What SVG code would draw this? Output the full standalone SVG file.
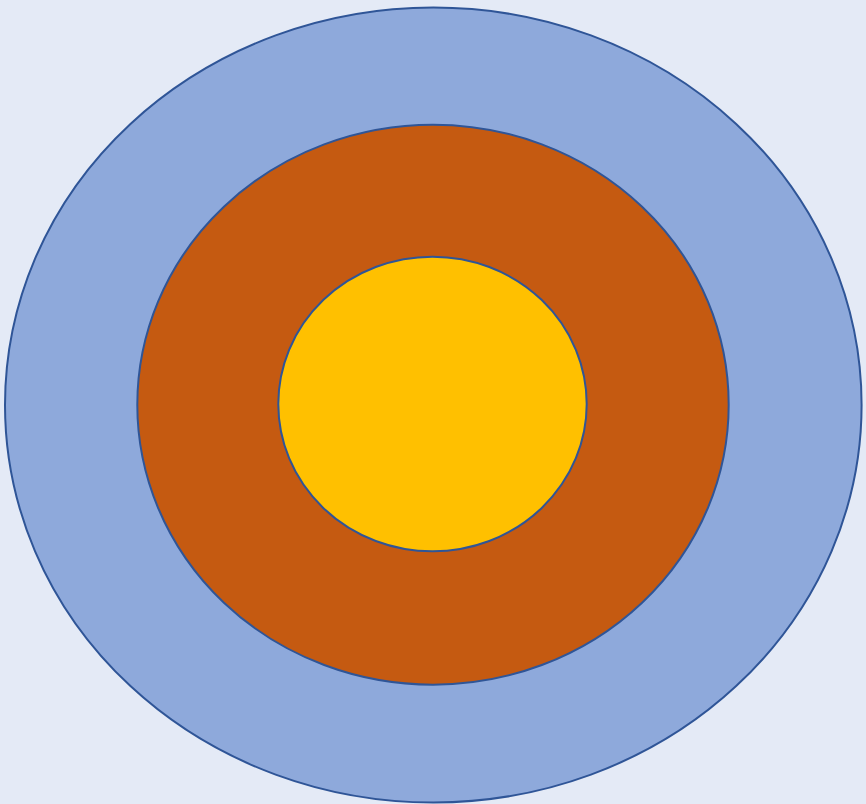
<svg xmlns="http://www.w3.org/2000/svg" width="866" height="804" viewBox="0 0 866 804">
<style>
.ring{stroke:#2F5597;stroke-width:2}
</style>
<rect x="0" y="0" width="866" height="804" fill="#E4EAF6"/>
<g id="outer"><ellipse class="ring" cx="433.3" cy="405" rx="428.3" ry="397.5" fill="#8EA9DB"/></g>
<g id="middle"><ellipse class="ring" cx="433" cy="404.7" rx="295.7" ry="280" fill="#C55A11"/></g>
<g id="inner"><ellipse class="ring" cx="432.5" cy="404" rx="154.2" ry="147.3" fill="#FFC000"/></g>
<g id="connectors"/>
</svg>
